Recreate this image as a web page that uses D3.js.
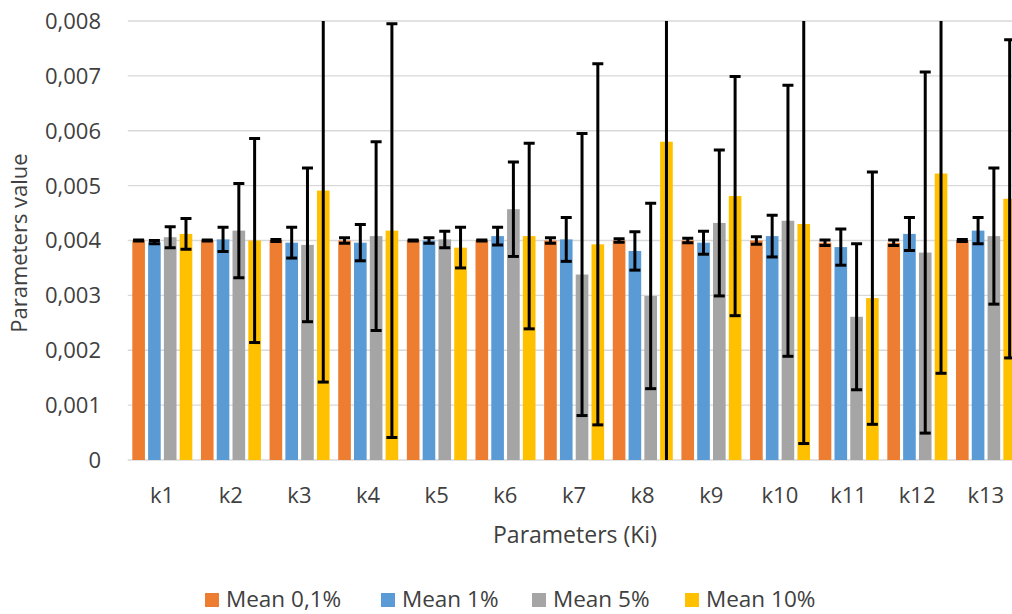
<!DOCTYPE html>
<html>
<head>
<meta charset="utf-8">
<script src="https://cdn.jsdelivr.net/npm/d3@7"></script>
<style>
  html, body { margin: 0; padding: 0; background: #fff; }
  svg { display: block; font-family: "Open Sans", "Noto Sans", sans-serif; }
</style>
</head>
<body>
<svg id="chart" width="1012" height="614"></svg>
<script>
const categories = ["k1","k2","k3","k4","k5","k6","k7","k8","k9","k10","k11","k12","k13"];
const seriesNames = ["Mean 0,1%","Mean 1%","Mean 5%","Mean 10%"];
const seriesColors = ["#ED7D31","#5B9BD5","#A5A5A5","#FFC000"];

const mean01 = [0.0040,0.0040,0.0040,0.0040,0.0040,0.0040,0.0040,0.0040,0.0040,0.0040,0.00396,0.00396,0.0040];
const err01  = [0.00001,0.00001,0.00002,0.00005,0.00001,0.00001,0.00005,0.00003,0.00004,0.00007,0.00005,0.00005,0.00002];
const mean1  = [0.00397,0.00402,0.00396,0.00396,0.0040,0.00408,0.00402,0.00381,0.00396,0.00408,0.00388,0.00412,0.00418];
const err1   = [0.00003,0.00022,0.00028,0.00033,0.00005,0.00016,0.0004,0.00035,0.00021,0.00038,0.00033,0.0003,0.00024];
const mean5  = [0.00406,0.00418,0.00392,0.00408,0.00402,0.00457,0.00338,0.00299,0.00432,0.00436,0.00261,0.00378,0.00408];
const err5   = [0.00019,0.00086,0.0014,0.00172,0.00015,0.00086,0.00257,0.00169,0.00133,0.00247,0.00133,0.00329,0.00124];
const mean10 = [0.00412,0.0040,0.00491,0.00418,0.00387,0.00408,0.00393,0.0058,0.00481,0.0043,0.00295,0.00522,0.00476];
const err10  = [0.00028,0.00186,0.00349,0.00377,0.00037,0.00169,0.00329,0.0062,0.00218,0.0040,0.0023,0.00364,0.0029];

const yTicks = [0,0.001,0.002,0.003,0.004,0.005,0.006,0.007,0.008];
const yTickLabels = ["0","0,001","0,002","0,003","0,004","0,005","0,006","0,007","0,008"];

const means = [mean01, mean1, mean5, mean10];
const errs = [err01, err1, err5, err10];

const svg = d3.select("#chart");
const W = 1012, H = 614;
const plotLeft = 127.8, plotTop = 21, plotBottom = 460;

const x0 = d3.scaleBand().domain(categories).range([plotLeft, plotLeft + 13 * 68.64]).padding(0);
const x1 = d3.scaleBand().domain(d3.range(4)).range([4.5, 64.5]).paddingInner(0.2).paddingOuter(0);
const y = d3.scaleLinear().domain([0, 0.008]).range([plotBottom, plotTop]);

// gridlines
svg.append("g").selectAll("line").data(yTicks).join("line")
  .attr("x1", plotLeft).attr("x2", W)
  .attr("y1", d => y(d)).attr("y2", d => y(d))
  .attr("stroke", "#D9D9D9").attr("stroke-width", 1.3);

// y tick labels
svg.append("g").selectAll("text").data(yTicks).join("text")
  .attr("x", 101).attr("y", d => y(d)).attr("dy", "0.36em")
  .attr("text-anchor", "end").attr("font-size", 22).attr("fill", "#404040")
  .text((d, i) => yTickLabels[i]);

// clip
svg.append("defs").append("clipPath").attr("id", "plotclip")
  .append("rect").attr("x", plotLeft).attr("y", plotTop).attr("width", W - plotLeft).attr("height", plotBottom - plotTop);

const plot = svg.append("g").attr("clip-path", "url(#plotclip)");

const rows = [];
categories.forEach((c, ci) => {
  for (let s = 0; s < 4; s++) rows.push({c, s, v: means[s][ci], e: errs[s][ci]});
});

plot.append("g").selectAll("rect").data(rows).join("rect")
  .attr("x", d => x0(d.c) + x1(d.s))
  .attr("width", x1.bandwidth())
  .attr("y", d => y(d.v))
  .attr("height", d => y(0) - y(d.v))
  .attr("fill", d => seriesColors[d.s]);

// error bars
const eb = plot.append("g").attr("stroke", "#000").attr("stroke-width", 3);
const cx = d => x0(d.c) + x1(d.s) + x1.bandwidth() / 2;
eb.selectAll("line.v").data(rows).join("line").attr("class", "v")
  .attr("x1", cx).attr("x2", cx)
  .attr("y1", d => y(d.v + d.e)).attr("y2", d => y(Math.max(0, d.v - d.e)));
eb.selectAll("line.t").data(rows).join("line").attr("class", "t")
  .attr("x1", d => cx(d) - 5.5).attr("x2", d => cx(d) + 5.5)
  .attr("y1", d => y(d.v + d.e)).attr("y2", d => y(d.v + d.e));
eb.selectAll("line.b").data(rows.filter(d => d.v - d.e > 0)).join("line").attr("class", "b")
  .attr("x1", d => cx(d) - 5.5).attr("x2", d => cx(d) + 5.5)
  .attr("y1", d => y(d.v - d.e)).attr("y2", d => y(d.v - d.e));

// x labels
svg.append("g").selectAll("text").data(categories).join("text")
  .attr("x", d => x0(d) + x0.bandwidth() / 2).attr("y", 503)
  .attr("text-anchor", "middle").attr("font-size", 22).attr("fill", "#404040")
  .text(d => d);

// axis titles
svg.append("text").attr("x", 575).attr("y", 543).attr("text-anchor", "middle")
  .attr("font-size", 23).attr("fill", "#404040").text("Parameters (Ki)");
svg.append("text").attr("transform", "translate(27,243) rotate(-90)").attr("text-anchor", "middle")
  .attr("font-size", 22).attr("fill", "#404040").text("Parameters value");

// legend
const legendX = [205, 381, 532, 685];
const lg = svg.append("g").selectAll("g").data(seriesNames).join("g")
  .attr("transform", (d, i) => `translate(${legendX[i]},593)`);
lg.append("rect").attr("width", 14).attr("height", 14).attr("fill", (d, i) => seriesColors[i]);
lg.append("text").attr("x", 21).attr("y", 14).attr("font-size", 22.5)
  .attr("fill", "#404040").text(d => d);
</script>
</body>
</html>
